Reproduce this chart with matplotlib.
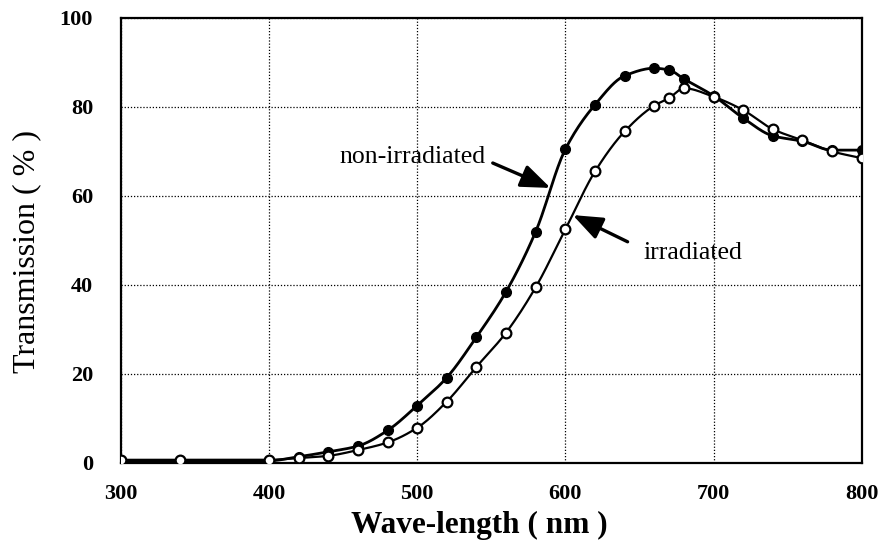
import matplotlib
matplotlib.use("Agg")
import matplotlib.pyplot as plt
import numpy as np

wavelength = [300, 340, 400, 420, 440, 460, 480, 500, 520, 540, 560, 580, 600,
              620, 640, 660, 670, 680, 700, 720, 740, 760, 780, 800]
non_irradiated = [0.5, 0.5, 0.5, 1.4, 2.5, 3.8, 7.3, 12.9, 19.2, 28.3, 38.5, 52.0, 70.5,
                  80.5, 87.0, 88.7, 88.3, 86.3, 82.5, 77.5, 73.5, 72.3, 70.3, 70.3]
irradiated = [0.7, 0.7, 0.7, 1.1, 1.6, 2.9, 4.6, 7.9, 13.8, 21.6, 29.3, 39.5, 52.5,
              65.5, 74.5, 80.3, 82.0, 84.2, 82.3, 79.3, 75.0, 72.5, 70.0, 68.5]
xticks = [300, 400, 500, 600, 700, 800]
yticks = [0, 20, 40, 60, 80, 100]


def pchip(x, y, n=20):
    """Monotone cubic (Fritsch-Carlson) smoothing through the points."""
    x = np.asarray(x, float)
    y = np.asarray(y, float)
    h = np.diff(x)
    d = np.diff(y) / h
    m = np.zeros_like(y)
    m[0], m[-1] = d[0], d[-1]
    for k in range(1, len(x) - 1):
        if d[k - 1] * d[k] <= 0:
            m[k] = 0.0
        else:
            w1 = 2 * h[k] + h[k - 1]
            w2 = h[k] + 2 * h[k - 1]
            m[k] = (w1 + w2) / (w1 / d[k - 1] + w2 / d[k])
    xs, ys = [], []
    for k in range(len(x) - 1):
        t = np.linspace(0, 1, n, endpoint=False)
        h00 = 2 * t**3 - 3 * t**2 + 1
        h10 = t**3 - 2 * t**2 + t
        h01 = -2 * t**3 + 3 * t**2
        h11 = t**3 - t**2
        xs.append(x[k] + t * h[k])
        ys.append(h00 * y[k] + h10 * h[k] * m[k] + h01 * y[k + 1] + h11 * h[k] * m[k + 1])
    xs.append([x[-1]])
    ys.append([y[-1]])
    return np.concatenate(xs), np.concatenate(ys)


plt.rcParams['font.family'] = ['Liberation Serif', 'DejaVu Serif']

fig = plt.figure(figsize=(8.82, 5.44), dpi=100)
ax = fig.add_axes([0.137, 0.149, 0.840, 0.818])

sx, sy = pchip(wavelength, non_irradiated)
ax.plot(sx, sy, '-', color='black', lw=2.0, zorder=3)
ax.plot(wavelength, non_irradiated, 'o', markersize=7, markerfacecolor='black',
        markeredgecolor='black', zorder=3)
sx, sy = pchip(wavelength, irradiated)
ax.plot(sx, sy, '-', color='black', lw=1.6, zorder=4)
ax.plot(wavelength, irradiated, 'o', markersize=7, markerfacecolor='white',
        markeredgecolor='black', markeredgewidth=1.6, zorder=5)

ax.set_xlim(300, 800)
ax.set_ylim(0, 100)
ax.set_xticks(xticks)
ax.set_yticks(yticks)
ax.grid(True, color='black', linestyle=(0, (1, 1.5)), linewidth=0.9)
ax.tick_params(axis='x', length=0, labelsize=16, pad=15)
ax.tick_params(axis='y', length=0, labelsize=16, pad=20)
for lab in ax.get_xticklabels() + ax.get_yticklabels():
    lab.set_fontweight('bold')
for s in ax.spines.values():
    s.set_linewidth(1.6)
    s.set_color('black')

ax.set_xlabel('Wave-length ( nm )', fontsize=22.5, fontweight='bold')
ax.xaxis.set_label_coords(0.4845, -0.108)
ax.set_ylabel('Transmission ( % )', fontsize=23)
ax.yaxis.set_label_coords(-0.107, 0.476)

ax.text(546, 68.8, 'non-irradiated', fontsize=18.5, ha='right', va='center')
ax.annotate('', xy=(590, 61.8), xytext=(551, 67.4),
            arrowprops=dict(arrowstyle='-|>,head_length=0.9,head_width=0.35',
                            color='black', lw=2.4, mutation_scale=20,
                            shrinkA=0, shrinkB=0))
ax.text(652.7, 47.2, 'irradiated', fontsize=18.5, ha='left', va='center')
ax.annotate('', xy=(605, 55.7), xytext=(642, 49.7),
            arrowprops=dict(arrowstyle='-|>,head_length=0.9,head_width=0.35',
                            color='black', lw=2.4, mutation_scale=20,
                            shrinkA=0, shrinkB=0))

fig.savefig('out.png', dpi=100)
